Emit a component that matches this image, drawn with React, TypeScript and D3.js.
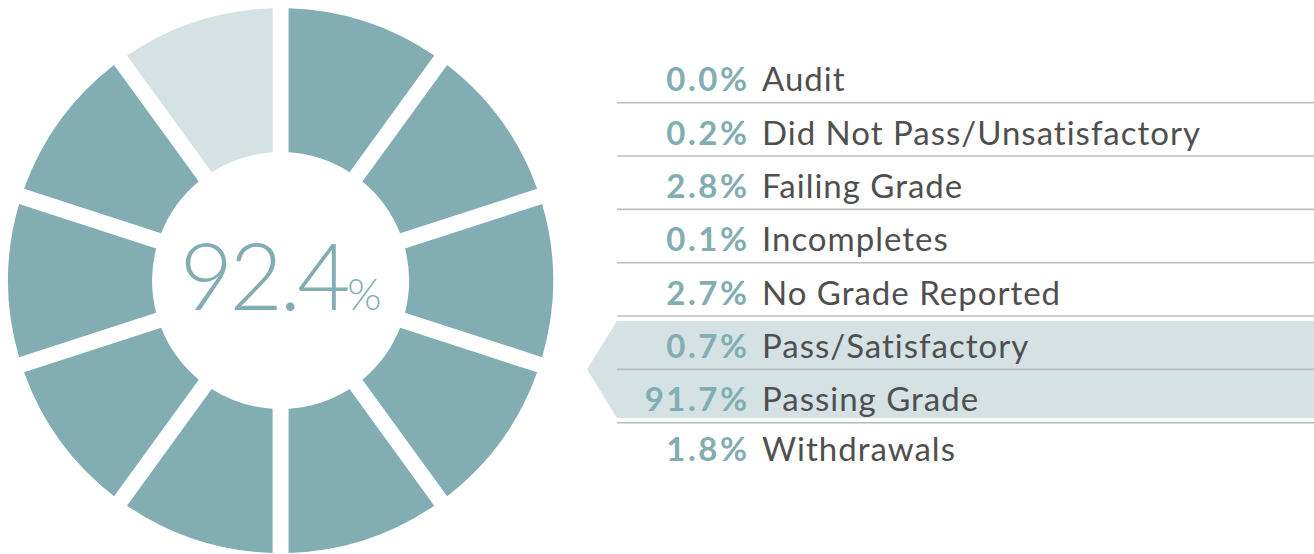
import React from "react";
import * as d3 from "d3";

const segmentStates = ["on", "on", "on", "on", "on", "on", "on", "on", "on", "off"];
const centerValue = "92.4";
const centerUnit = "%";
const percents = ["0.0%", "0.2%", "2.8%", "0.1%", "2.7%", "0.7%", "91.7%", "1.8%"];
const labels = [
  "Audit",
  "Did Not Pass/Unsatisfactory",
  "Failing Grade",
  "Incompletes",
  "No Grade Reported",
  "Pass/Satisfactory",
  "Passing Grade",
  "Withdrawals",
];
const highlighted = [5, 6];

const W = 1314;
const H = 554;
const cx = 280.6;
const cy = 280.6;
const R = 272.5;
const r = 128.5;
const DARK = "#82adb2";
const LIGHT = "#d5e2e4";

export default function App() {
  const pie = d3.pie<string>().value(() => 1).sort(null);
  const arcs = pie(segmentStates);
  const arc = d3
    .arc<d3.PieArcDatum<string>>()
    .innerRadius(r)
    .outerRadius(R)
    .padRadius(100)
    .padAngle(0.16);

  // rows: line below each row
  const lineY = d3.scaleLinear().domain([0, 6]).range([102.7, 422.7]);
  const baseY = (i: number) => (i < 7 ? lineY(i) - 11.5 : lineY(6) + 38.5);
  const xLineStart = 617;
  const pctSpacing = 2.5;
  const xPctRight = 747 + pctSpacing;
  const xLabel = 762;

  const hTop = 321;
  const hBot = 418;
  const hMid = lineY(highlighted[0]);
  const hLeft = 617;
  const tipX = 587;
  const hPath = `M${hLeft},${hTop} L${W},${hTop} L${W},${hBot} L${hLeft},${hBot} L${tipX},${hMid} Z`;

  return (
    <svg
      width={W}
      height={H}
      style={{ position: "absolute", left: 0, top: 0, background: "#fff" }}
    >
      <g transform={`translate(${cx},${cy})`}>
        {arcs.map((a, i) => (
          <path key={i} d={arc(a) || ""} fill={a.data === "on" ? DARK : LIGHT} />
        ))}
        <text
          x={0}
          y={29}
          textAnchor="middle"
          fill={DARK}
          fontFamily="Lato"
          fontWeight={300}
        >
          <tspan fontSize={92} letterSpacing={-3.5}>{centerValue}</tspan>
          <tspan fontSize={44} dx={0}>{centerUnit}</tspan>
        </text>
      </g>
      <path d={hPath} fill={LIGHT} />
      {percents.map((p, i) => (
        <g key={i}>
          {i < 7 && (
            <line
              x1={xLineStart}
              x2={W}
              y1={lineY(i)}
              y2={lineY(i)}
              stroke="#bcbcc0"
              strokeWidth={1.6}
            />
          )}
          <text
            x={xPctRight}
            y={baseY(i)}
            textAnchor="end"
            fill={DARK}
            fontFamily="Lato"
            fontWeight={700}
            fontSize={33}
            letterSpacing={pctSpacing}
          >
            {p}
          </text>
          <text
            x={xLabel}
            y={baseY(i)}
            fill="#4f4f4f"
            fontFamily="Lato"
            fontWeight={400}
            fontSize={33}
            letterSpacing={1}
          >
            {labels[i]}
          </text>
        </g>
      ))}
    </svg>
  );
}
